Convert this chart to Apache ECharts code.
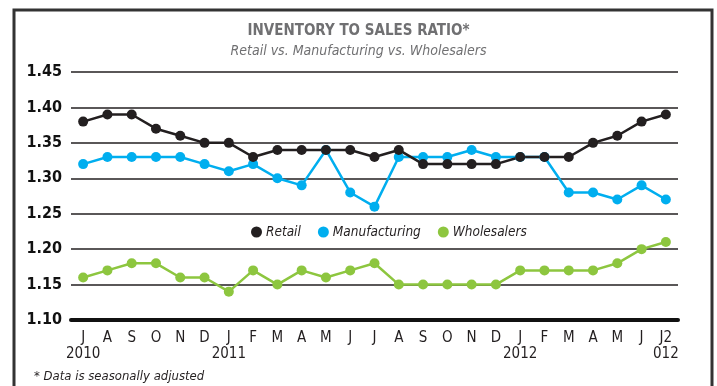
<!DOCTYPE html>
<html><head><meta charset="utf-8">
<script src="https://cdn.jsdelivr.net/npm/echarts@6/dist/echarts.min.js"></script>
<style>html,body{margin:0;padding:0;background:#fff}#c{width:717px;height:386px}</style>
</head><body><div id="c"></div>
<script>
const categories = ['J\n2010','A','S','O','N','D','J\n2011','F','M','A','M','J','J','A','S','O','N','D','J\n2012','F','M','A','M','J','J2\n012'];
const retail = [1.38,1.39,1.39,1.37,1.36,1.35,1.35,1.33,1.34,1.34,1.34,1.34,1.33,1.34,1.32,1.32,1.32,1.32,1.33,1.33,1.33,1.35,1.36,1.38,1.39];
const manufacturing = [1.32,1.33,1.33,1.33,1.33,1.32,1.31,1.32,1.30,1.29,1.34,1.28,1.26,1.33,1.33,1.33,1.34,1.33,1.33,1.33,1.28,1.28,1.27,1.29,1.27];
const wholesalers = [1.16,1.17,1.18,1.18,1.16,1.16,1.14,1.17,1.15,1.17,1.16,1.17,1.18,1.15,1.15,1.15,1.15,1.15,1.17,1.17,1.17,1.17,1.18,1.20,1.21];
const yTicks = {min:1.10, max:1.45, step:0.05};

const narrow = '"Liberation Sans Narrow","DejaVu Sans Condensed","Roboto",sans-serif';
const chart = echarts.init(document.getElementById('c'));
function ser(name, data, color){
  return {name, type:'line', data, symbol:'circle', symbolSize:10,
    lineStyle:{color, width:2.5}, itemStyle:{color}, z: 3};
}
chart.setOption({
  animation:false,
  title:[
    {text:'INVENTORY TO SALES RATIO*', left:'center', top:19,
     textStyle:{fontFamily:narrow, fontWeight:'bold', fontSize:15, color:'#707072'}},
    {text:'Retail vs. Manufacturing vs. Wholesalers', left:'center', top:39,
     textStyle:{fontFamily:narrow, fontStyle:'italic', fontWeight:'normal', fontSize:14, color:'#707072'}},
    {text:'* Data is seasonally adjusted', left:29, top:365,
     textStyle:{fontFamily:narrow, fontStyle:'italic', fontWeight:'normal', fontSize:13, color:'#231f20'}}
  ],
  graphic:[{type:'rect', shape:{x:14, y:10, width:698, height:400},
    style:{fill:'none', stroke:'#333', lineWidth:3}, silent:true}],
  legend:{left:246, top:220, itemWidth:11, itemHeight:11, itemGap:17, icon:'circle',
    textStyle:{fontFamily:narrow, fontStyle:'italic', fontSize:13.5, color:'#231f20', padding:[0,0,0,-1]},
    data:['Retail','Manufacturing','Wholesalers']},
  grid:{left:71, right:39, top:72, bottom:66},
  xAxis:{type:'category', data:categories, boundaryGap:true,
    axisLine:{lineStyle:{color:'#111', width:4}}, axisTick:{show:false},
    axisLabel:{interval:0, margin:10, fontFamily:narrow, fontSize:15, color:'#231f20', lineHeight:16}},
  yAxis:{type:'value', min:yTicks.min, max:yTicks.max, interval:yTicks.step,
    axisLine:{show:false}, axisTick:{show:false},
    splitLine:{lineStyle:{color:'#231f20', width:1.5}},
    axisLabel:{margin:9, fontFamily:narrow, fontWeight:'bold', fontSize:16, color:'#111',
      formatter:v=>v.toFixed(2)}},
  series:[ser('Wholesalers', wholesalers, '#8dc63f'), ser('Manufacturing', manufacturing, '#00aeef'), ser('Retail', retail, '#231f20')]
});
</script></body></html>
